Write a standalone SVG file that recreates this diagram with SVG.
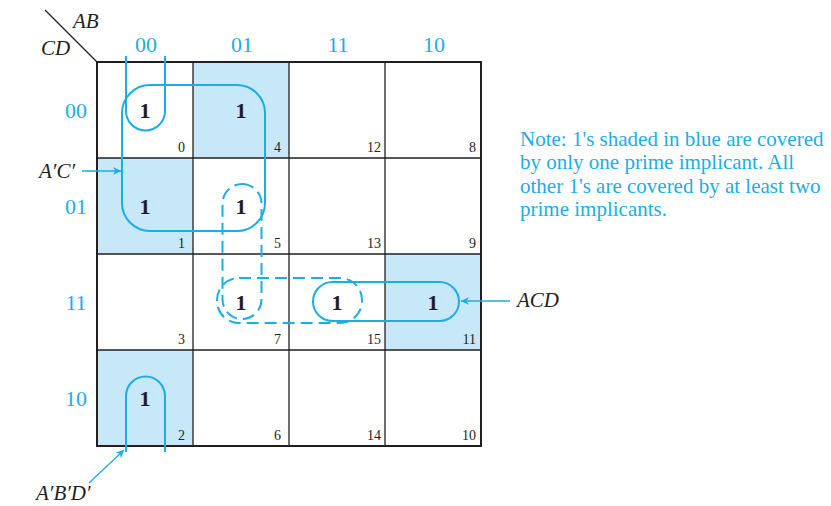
<svg xmlns="http://www.w3.org/2000/svg" width="831" height="506" viewBox="0 0 831 506">
<defs>
<style>
.shade{fill:#c6e8f8;stroke:none}
.grid{stroke:#231f20;stroke-width:1.3;fill:none}
.border{stroke:#231f20;stroke-width:2;fill:none}
.loop{stroke:#1aaee5;stroke-width:2;fill:none}
.dash{stroke:#1aaee5;stroke-width:2;fill:none;stroke-dasharray:12,6}
.arr{stroke:#1aaee5;stroke-width:1.3;fill:none}
.hdr{font-family:"Liberation Serif",serif;font-size:22px;fill:#1aaee5;text-anchor:middle}
.one{font-family:"Liberation Serif",serif;font-size:22px;font-weight:bold;fill:#231f20;text-anchor:middle}
.num{font-family:"Liberation Serif",serif;font-size:14px;fill:#231f20;text-anchor:end}
.var{font-family:"Liberation Serif",serif;font-size:21px;font-style:italic;fill:#231f20}
.note{font-family:"Liberation Serif",serif;font-size:21px;fill:#1aaee5}
</style>
<marker id="ah" viewBox="0 0 10 10" refX="10" refY="5" markerWidth="10" markerHeight="8" markerUnits="userSpaceOnUse" orient="auto">
<path d="M0,0 L10,5 L0,10 L3,5 Z" fill="#1aaee5"/>
</marker>
</defs>

<g id="shading">
<rect class="shade" x="193" y="62" width="96" height="96"/>
<rect class="shade" x="97" y="158" width="96" height="96"/>
<rect class="shade" x="385" y="254" width="96" height="96"/>
<rect class="shade" x="97" y="350" width="96" height="96"/>
</g>

<g id="grid">
<line class="grid" x1="193" y1="62" x2="193" y2="446"/>
<line class="grid" x1="289" y1="62" x2="289" y2="446"/>
<line class="grid" x1="385" y1="62" x2="385" y2="446"/>
<line class="grid" x1="97" y1="158" x2="481" y2="158"/>
<line class="grid" x1="97" y1="254" x2="481" y2="254"/>
<line class="grid" x1="97" y1="350" x2="481" y2="350"/>
<rect class="border" x="97" y="62" width="384" height="384"/>
<line class="grid" x1="45" y1="10" x2="97" y2="62"/>
</g>

<g id="headers">
<text class="var" x="73" y="28">AB</text>
<text class="var" x="41" y="55">CD</text>
<text class="hdr" x="146" y="52">00</text>
<text class="hdr" x="242" y="52">01</text>
<text class="hdr" x="338" y="52">11</text>
<text class="hdr" x="434" y="52">10</text>
<text class="hdr" x="76" y="118">00</text>
<text class="hdr" x="76" y="214">01</text>
<text class="hdr" x="76" y="310">11</text>
<text class="hdr" x="76" y="406">10</text>
</g>

<g id="cells">
<text class="one" x="145" y="118">1</text>
<text class="one" x="241" y="118">1</text>
<text class="one" x="145" y="214">1</text>
<text class="one" x="241" y="214">1</text>
<text class="one" x="241" y="310">1</text>
<text class="one" x="337" y="310">1</text>
<text class="one" x="433" y="310">1</text>
<text class="one" x="145" y="406">1</text>
<text class="num" x="185" y="152">0</text>
<text class="num" x="281" y="152">4</text>
<text class="num" x="381" y="152">12</text>
<text class="num" x="476" y="152">8</text>
<text class="num" x="185" y="248">1</text>
<text class="num" x="281" y="248">5</text>
<text class="num" x="381" y="248">13</text>
<text class="num" x="476" y="248">9</text>
<text class="num" x="185" y="344">3</text>
<text class="num" x="281" y="344">7</text>
<text class="num" x="381" y="344">15</text>
<text class="num" x="476" y="344">11</text>
<text class="num" x="185" y="440">2</text>
<text class="num" x="281" y="440">6</text>
<text class="num" x="381" y="440">14</text>
<text class="num" x="476" y="440">10</text>
</g>

<g id="connectors">
<rect id="loop-AC" class="loop" x="122" y="85" width="143" height="146" rx="28" ry="28"/>
<path id="loop-ABD-top" class="loop" d="M126,56 V111 A19.5,19.5 0 0 0 165,111 V56"/>
<path id="loop-ABD-bot" class="loop" d="M126,452 V396 A19.5,19.5 0 0 1 165,396 V452"/>
<rect id="loop-ACD" class="loop" x="313" y="282" width="146" height="39" rx="19.5" ry="19.5"/>
<rect id="loop-BD" class="dash" x="222.5" y="184" width="39" height="135" rx="19.5" ry="19.5"/>
<rect id="loop-BCD" class="dash" x="217" y="278" width="145" height="45" rx="22" ry="22"/>
<line class="arr" x1="82" y1="171" x2="121" y2="171" marker-end="url(#ah)"/>
<line class="arr" x1="510" y1="301" x2="461" y2="301" marker-end="url(#ah)"/>
<line class="arr" x1="89" y1="483" x2="124" y2="450" marker-end="url(#ah)"/>
</g>

<g id="labels">
<text class="var" x="39" y="178">A′C′</text>
<text class="var" x="517" y="307">ACD</text>
<text class="var" x="36" y="500">A′B′D′</text>
</g>

<g id="note">
<text class="note" x="520" y="146">Note: 1's shaded in blue are covered</text>
<text class="note" x="520" y="169">by only one prime implicant. All</text>
<text class="note" x="520" y="193">other 1's are covered by at least two</text>
<text class="note" x="520" y="216">prime implicants.</text>
</g>
</svg>
